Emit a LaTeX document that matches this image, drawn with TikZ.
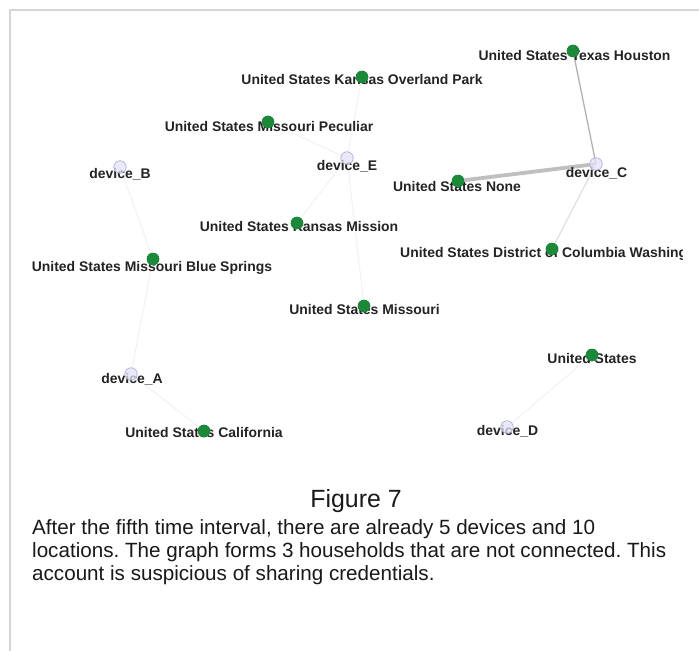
\documentclass[tikz,border=0pt]{standalone}
\usepackage{fontspec}
\setmainfont{Liberation Sans}
\frenchspacing
\begin{document}
\begin{tikzpicture}[x=1bp,y=-1bp,
  loc/.style={circle,fill={rgb,255:red,28;green,136;blue,58},minimum size=12.5bp,inner sep=0pt},
  dev/.style={circle,fill={rgb,255:red,226;green,226;blue,246},draw={rgb,255:red,165;green,165;blue,215},line width=0.6bp,minimum size=12.5bp,inner sep=0pt,fill opacity=0.75},
  lab/.style={anchor=base,inner sep=0pt,font=\bfseries\fontsize{14}{16}\selectfont,text={rgb,255:red,35;green,35;blue,35}},
  faint/.style={draw=black!5,line width=1bp},
  frame/.style={draw=black!16,line width=1.6bp},
  para/.style={anchor=base west,inner sep=0pt,font=\fontsize{20.7}{24}\selectfont,text=black!90}
]
\useasboundingbox (0,0) rectangle (699,651);
\fill[white] (0,0) rectangle (699,651);
\coordinate (fa) at (699,10);
\coordinate (fb) at (10,10);
\coordinate (fc) at (10,651);
\draw[frame] (fa) -- (fb) -- (fc);

% node coordinates
\coordinate (pHou) at (573,51);
\coordinate (pOve) at (362,77);
\coordinate (pPec) at (268,122);
\coordinate (pE) at (347,158);
\coordinate (pB) at (120,167);
\coordinate (pC) at (596,164);
\coordinate (pNone) at (458,181);
\coordinate (pMis) at (297,223);
\coordinate (pDC) at (552,249);
\coordinate (pBlue) at (153,259);
\coordinate (pMo) at (364,306);
\coordinate (pUS) at (592,355);
\coordinate (pA) at (131,374);
\coordinate (pCal) at (204,431);
\coordinate (pD) at (507,427);

% location nodes (for edge anchoring)
\node[loc] (Hou) at (pHou) {};
\node[loc] (Ove) at (pOve) {};
\node[loc] (Pec) at (pPec) {};
\node[loc] (None) at (pNone) {};
\node[loc] (Mis) at (pMis) {};
\node[loc] (DC) at (pDC) {};
\node[loc] (Blue) at (pBlue) {};
\node[loc] (Mo) at (pMo) {};
\node[loc] (US) at (pUS) {};
\node[loc] (Cal) at (pCal) {};

% edges
\draw[draw=black!30,line width=1.3bp] (pC) -- (Hou);
\draw[draw=black!25,line width=3.8bp] (pC) -- (None);
\draw[draw=black!12,line width=1.2bp] (pC) -- (DC);
\draw[faint] (pD) -- (US);
\draw[faint] (pA) -- (Cal);
\draw[faint] (pA) -- (Blue);
\draw[faint] (pB) -- (Blue);
\draw[faint] (pE) -- (Ove);
\draw[faint] (pE) -- (Pec);
\draw[faint] (pE) -- (Mis);
\draw[faint] (pE) -- (Mo);

% labels
\node[lab] (tHou) at (574.5,61) {United States Texas Houston};
\node[lab] (tOve) at (362,85) {United States Kansas Overland Park};
\node[lab] (tPec) at (269,132) {United States Missouri Peculiar};
\node[lab] (tE) at (347,170) {device\_E};
\node[lab] (tB) at (120,178) {device\_B};
\node[lab] (tC) at (596.5,177) {device\_C};
\node[lab] (tNone) at (457,191) {United States None};
\node[lab] (tMis) at (299,231) {United States Kansas Mission};
\begin{scope}
\clip (0,0) rectangle (682,651);
\node[lab,anchor=base west] (tDC) at (400,257) {United States District of Columbia Washington};
\end{scope}
\node[lab] (tBlue) at (152,271) {United States Missouri Blue Springs};
\node[lab] (tMo) at (364.5,314) {United States Missouri};
\node[lab] (tUS) at (592,363) {United States};
\node[lab] (tA) at (132,383) {device\_A};
\node[lab] (tCal) at (204,437) {United States California};
\node[lab] (tD) at (507.5,435) {device\_D};

% nodes on top
\node[loc] at (pHou) {};
\node[loc] at (pOve) {};
\node[loc] at (pPec) {};
\node[loc] at (pNone) {};
\node[loc] at (pMis) {};
\node[loc] at (pDC) {};
\node[loc] at (pBlue) {};
\node[loc] at (pMo) {};
\node[loc] at (pUS) {};
\node[loc] at (pCal) {};
\node[dev] (E) at (pE) {};
\node[dev] (B) at (pB) {};
\node[dev] (C) at (pC) {};
\node[dev] (A) at (pA) {};
\node[dev] (D) at (pD) {};

% caption
\node[anchor=base,inner sep=0pt,font=\fontsize{25}{30}\selectfont,text=black!90] (fig) at (356,507) {Figure 7};
\node[para] (p1) at (32,534) {After the fifth time interval, there are already 5 devices and 10};
\node[para] (p2) at (32,557) {locations. The graph forms 3 households that are not connected. This};
\node[para] (p3) at (32,580) {account is suspicious of sharing credentials.};
\end{tikzpicture}
\end{document}
